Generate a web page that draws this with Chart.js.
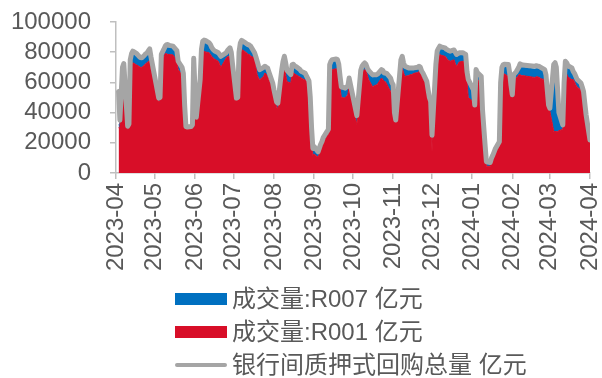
<!DOCTYPE html>
<html>
<head>
<meta charset="utf-8">
<script src="https://cdn.jsdelivr.net/npm/chart.js@4/dist/chart.umd.min.js"></script>
<style>
html,body{margin:0;padding:0;background:#fff;}
#c{display:block;}
</style>
</head>
<body>
<canvas id="c" width="602" height="378"></canvas>
<script>
const dates = [
'2023-04-03','2023-04-04','2023-04-06','2023-04-07','2023-04-10','2023-04-11','2023-04-12','2023-04-13','2023-04-14','2023-04-17',
'2023-04-18','2023-04-19','2023-04-20','2023-04-21','2023-04-23','2023-04-24','2023-04-25','2023-04-26','2023-04-27','2023-04-28',
'2023-05-04','2023-05-05','2023-05-06','2023-05-08','2023-05-09','2023-05-10','2023-05-11','2023-05-12','2023-05-15','2023-05-16',
'2023-05-17','2023-05-18','2023-05-19','2023-05-22','2023-05-23','2023-05-24','2023-05-25','2023-05-26','2023-05-29','2023-05-30',
'2023-05-31','2023-06-01','2023-06-02','2023-06-05','2023-06-06','2023-06-07','2023-06-08','2023-06-09','2023-06-12','2023-06-13',
'2023-06-14','2023-06-15','2023-06-16','2023-06-19','2023-06-20','2023-06-21','2023-06-25','2023-06-26','2023-06-27','2023-06-28',
'2023-06-29','2023-06-30','2023-07-03','2023-07-04','2023-07-05','2023-07-06','2023-07-07','2023-07-10','2023-07-11','2023-07-12',
'2023-07-13','2023-07-14','2023-07-17','2023-07-18','2023-07-19','2023-07-20','2023-07-21','2023-07-24','2023-07-25','2023-07-26',
'2023-07-27','2023-07-28','2023-07-31','2023-08-01','2023-08-02','2023-08-03','2023-08-04','2023-08-07','2023-08-08','2023-08-09',
'2023-08-10','2023-08-11','2023-08-14','2023-08-15','2023-08-16','2023-08-17','2023-08-18','2023-08-21','2023-08-22','2023-08-23',
'2023-08-24','2023-08-25','2023-08-28','2023-08-29','2023-08-30','2023-08-31','2023-09-01','2023-09-04','2023-09-05','2023-09-06',
'2023-09-07','2023-09-08','2023-09-11','2023-09-12','2023-09-13','2023-09-14','2023-09-15','2023-09-18','2023-09-19','2023-09-20',
'2023-09-21','2023-09-22','2023-09-25','2023-09-26','2023-09-27','2023-09-28','2023-10-04','2023-10-07','2023-10-08','2023-10-09',
'2023-10-10','2023-10-11','2023-10-12','2023-10-13','2023-10-16','2023-10-17','2023-10-18','2023-10-19','2023-10-20','2023-10-23',
'2023-10-24','2023-10-25','2023-10-26','2023-10-27','2023-10-30','2023-10-31','2023-11-01','2023-11-02','2023-11-03','2023-11-06',
'2023-11-07','2023-11-08','2023-11-09','2023-11-10','2023-11-13','2023-11-14','2023-11-15','2023-11-16','2023-11-17','2023-11-20',
'2023-11-21','2023-11-22','2023-11-23','2023-11-24','2023-11-27','2023-11-28','2023-11-29','2023-11-30','2023-12-01','2023-12-04',
'2023-12-05','2023-12-06','2023-12-07','2023-12-08','2023-12-11','2023-12-12','2023-12-13','2023-12-14','2023-12-15','2023-12-18',
'2023-12-19','2023-12-20','2023-12-21','2023-12-22','2023-12-25','2023-12-26','2023-12-27','2023-12-28','2023-12-29','2024-01-02',
'2024-01-03','2024-01-04','2024-01-05','2024-01-08','2024-01-09','2024-01-10','2024-01-11','2024-01-12','2024-01-15','2024-01-16',
'2024-01-17','2024-01-18','2024-01-19','2024-01-22','2024-01-23','2024-01-24','2024-01-25','2024-01-26','2024-01-29','2024-01-30',
'2024-01-31','2024-02-01','2024-02-02','2024-02-04','2024-02-05','2024-02-06','2024-02-07','2024-02-08','2024-02-09','2024-02-18',
'2024-02-19','2024-02-20','2024-02-21','2024-02-22','2024-02-23','2024-02-26','2024-02-27','2024-02-28','2024-02-29','2024-03-01',
'2024-03-04','2024-03-05','2024-03-06','2024-03-07','2024-03-08','2024-03-11','2024-03-12','2024-03-13','2024-03-14','2024-03-15',
'2024-03-18','2024-03-19','2024-03-20','2024-03-21','2024-03-22','2024-03-25','2024-03-26','2024-03-27','2024-03-28','2024-03-29',
'2024-04-01'
];
const total = [
54000,35000,70000,72500,31000,32500,75000,79000,80700,79000,
78000,77000,76500,76300,78000,79000,79600,81000,82200,77000,
49600,50000,78500,82000,84000,85000,85100,84500,84000,83000,
82000,81000,74000,70000,66000,45000,30700,30500,30800,32000,
76000,55000,37000,62000,82000,87300,88000,87800,86200,85000,
83000,81800,81000,79600,78500,77300,79600,81000,82000,82900,
80000,71800,49600,50000,80000,86000,87800,86200,85500,85100,
84700,84000,79600,77000,74000,71000,68500,70000,70700,70000,
69600,67000,59600,55000,51000,47000,46300,68500,74000,77300,
73000,68000,65100,71800,72000,71000,70500,68500,67300,67000,
66500,66200,61000,50000,30000,16300,17500,14000,16500,19000,
20700,23500,27500,29000,71800,74000,75100,75500,75100,72000,
64000,57000,56300,57000,57300,62900,38000,68000,70700,72000,
72900,72000,69600,68000,65100,65000,65100,65100,65500,68500,
68000,66200,66200,66000,62900,60000,58500,40000,35100,65000,
75000,77300,73000,70700,69600,69600,69600,69600,69600,70000,
70700,70000,67500,66200,60700,55000,50000,47300,25000,72000,
80700,82500,84000,83500,82900,82000,81500,81000,80700,81500,
80000,78500,79000,79600,79600,79000,78500,67300,62000,55000,
45000,68500,66500,64000,42000,30000,18500,7500,7000,10000,
11800,14000,16300,20700,60000,70000,71800,72000,71800,66000,
58000,51800,65100,67000,68500,70000,72300,71800,71500,70700,
71000,71000,70700,70500,70000,68500,65000,55000,45000,42900,
72000,73000,70000,55000,40000,31800,60000,74000,73000,71000,
69600,67300,66000,64000,62000,59600,57000,54000,46000,38500,
21800
];
const r001 = [
30000,30000,64000,67000,29000,30000,69000,72000,73000,71500,
71000,70500,70000,70000,71500,72500,73000,74000,74000,68500,
47500,47500,74000,77000,79000,79000,78500,78500,78200,77000,
75000,74000,68500,65000,62500,42000,29500,29500,29500,30000,
68000,50000,35000,57000,76000,80200,80500,80200,79600,78500,
77000,76300,75500,74000,72000,70000,76000,77000,77300,77300,
74000,67300,48000,48000,76000,81800,81800,80200,79500,78500,
78500,77300,76300,70000,65100,63000,61800,64000,66200,65500,
64000,62000,57300,52000,47000,43500,42900,64000,69000,71500,
65000,60500,59600,67300,66500,65500,65100,63500,62900,62500,
62000,61800,58000,46000,26000,11800,12500,10500,12500,15000,
16500,20000,24500,25500,67300,68500,68500,69000,68500,66000,
56000,50000,49600,51000,51800,57300,31800,63000,66200,67500,
68500,67500,65100,62000,57300,57500,58000,58300,59000,62900,
62000,60700,60500,59000,54000,54000,54000,37000,33400,60000,
68000,69600,66500,64000,64500,65100,65100,65500,66000,66500,
67300,66500,64000,62500,58000,52000,47000,44000,14000,67000,
76300,77500,78500,78000,77300,76500,75000,74500,74000,75000,
72500,70700,72000,73500,74000,74000,73500,60700,50000,47000,
43000,64000,62000,60000,39000,27500,16000,4500,4500,7500,
8900,11000,13000,17500,55000,64500,66200,65500,64000,58000,
54000,50500,60700,63000,63500,65000,65100,64500,64500,63300,
63500,63800,63500,63300,62500,61800,59000,51000,42500,41000,
27500,27500,27500,27500,28000,29000,56000,67000,65500,63500,
61800,62000,60500,58500,57000,55000,53500,52000,44000,37000,
20700
];
const r007 = [
2000,2500,4000,4000,1000,1500,4500,5000,5500,5500,
5000,5000,5000,4800,5000,5000,5000,5500,6000,6500,
1500,1500,3500,3500,3500,4000,4500,4500,4500,4500,
5000,5000,4000,3000,2500,2000,700,500,700,1000,
5000,3000,1000,3000,4000,5000,5500,5500,5000,5000,
4500,4000,4000,4000,4500,5500,2500,2800,3000,3500,
4000,3000,1000,1000,2500,2500,4000,4000,4000,4500,
4500,4500,2500,5000,6500,6500,5500,4500,3500,3500,
4000,3500,1500,2000,2500,2000,2000,3000,3500,4000,
6000,6000,4000,3000,3500,3500,3500,3500,3000,3000,
3000,3000,2000,2500,2500,3500,3500,2500,2500,2500,
3000,2500,2000,2000,3500,4000,5000,5000,5000,5000,
5500,5500,5000,4500,4000,4000,4500,3500,3000,3000,
3000,3000,3000,4500,6000,6000,5500,5500,5000,4000,
4500,4000,4000,5000,7000,4500,3000,2000,1000,3000,
4500,5500,5000,5000,4000,3500,3500,3000,3000,3000,
2500,2500,2500,2500,2000,2000,2000,2000,10000,3500,
3500,3500,4000,4000,4000,4000,5000,5000,5500,5500,
6000,6500,5500,5000,4500,4000,4000,5500,10000,6000,
1500,3000,3000,2500,1500,1500,1500,2000,1500,1500,
1500,1500,1500,1500,3000,3500,4000,4500,6000,6000,
3000,800,3000,3000,3500,4000,5500,5500,5500,5500,
5500,5500,5500,5500,5500,5000,4000,3000,1500,1000,
42500,43500,40000,26000,10000,1500,2500,5000,5500,5500,
6000,4000,4000,4000,3500,3000,2500,1500,1500,1000,
800
];
const monthLabels = ['2023-04','2023-05','2023-06','2023-07','2023-08','2023-09','2023-10','2023-11','2023-12','2024-01','2024-02','2024-03','2024-04'];
const seriesNames = ['银行间质押式回购总量 亿元','成交量:R001 亿元','成交量:R007 亿元'];

const ORIGIN = Date.UTC(2023, 3, 1);
const dayOf = s => (Date.parse(s + 'T00:00:00Z') - ORIGIN) / 86400000;
const tickVals = monthLabels.map(m => dayOf(m + '-01'));
const tickMap = {};
monthLabels.forEach((m, i) => { tickMap[tickVals[i]] = m; });
const pts = arr => dates.map((d, i) => ({ x: dayOf(d), y: arr[i] }));

const FONT = "'Liberation Sans', 'Noto Sans CJK SC', Arial, sans-serif";
const TXT = '#595959';
const AXIS = '#BFBFBF';
const RED = '#D80E28', BLUE = '#0070C0', GREY = '#A5A5A5';

const legendPlugin = {
  id: 'stackedLegend',
  afterDraw(chart) {
    const ctx = chart.ctx;
    const ds = chart.data.datasets;
    const rows = [
      { d: ds[2], kind: 'box' },
      { d: ds[1], kind: 'box' },
      { d: ds[0], kind: 'line' }
    ];
    const x0 = 175, bw = 52, tx = 232, y0 = 299, dy = 33;
    ctx.save();
    ctx.font = '24px ' + FONT;
    ctx.textBaseline = 'middle';
    ctx.textAlign = 'left';
    rows.forEach((r, i) => {
      const y = y0 + i * dy;
      if (r.kind === 'box') {
        ctx.fillStyle = r.d.backgroundColor;
        ctx.fillRect(x0, y - 6, bw, 12);
      } else {
        ctx.strokeStyle = r.d.borderColor;
        ctx.lineWidth = 4;
        ctx.lineCap = 'round';
        ctx.beginPath();
        ctx.moveTo(x0 + 2, y);
        ctx.lineTo(x0 + bw - 2, y);
        ctx.stroke();
      }
      ctx.fillStyle = TXT;
      ctx.fillText(r.d.label, tx, y + 1);
    });
    ctx.restore();
  }
};

new Chart(document.getElementById('c'), {
  type: 'line',
  data: {
    datasets: [
      { label: seriesNames[0], data: pts(total), borderColor: GREY, backgroundColor: GREY, borderWidth: 5,
        fill: false, stack: 'total', pointRadius: 0, tension: 0, borderJoinStyle: 'round', borderCapStyle: 'round' },
      { label: seriesNames[1], data: pts(r001), borderColor: RED, backgroundColor: RED, borderWidth: 1,
        fill: 'origin', stack: 'vol', pointRadius: 0, tension: 0 },
      { label: seriesNames[2], data: pts(r007), borderColor: BLUE, backgroundColor: BLUE, borderWidth: 1,
        fill: 1, stack: 'vol', pointRadius: 0, tension: 0 }
    ]
  },
  options: {
    responsive: false,
    animation: false,
    events: [],
    layout: { padding: { left: 0, top: 22, right: 12, bottom: 105 } },
    plugins: { legend: { display: false }, tooltip: { enabled: false } },
    scales: {
      x: {
        type: 'linear', min: 0, max: tickVals[tickVals.length - 1],
        afterBuildTicks: s => { s.ticks = tickVals.map(v => ({ value: v })); },
        afterFit: s => { s.paddingLeft = 4; s.paddingRight = 4; s.height = 100; },
        ticks: { autoSkip: false, minRotation: 90, maxRotation: 90, padding: 4, color: TXT,
          font: { family: FONT, size: 24, lineHeight: 1 }, callback: v => tickMap[v] },
        grid: { display: true, drawOnChartArea: false, drawTicks: true, tickLength: 6, color: AXIS, lineWidth: 1.5 },
        border: { display: true, color: AXIS, width: 1.5 }
      },
      y: {
        stacked: true, min: 0, max: 100000,
        afterFit: s => { s.paddingTop = 4; s.paddingBottom = 4; s.width = 116; },
        ticks: { autoSkip: false, stepSize: 20000, padding: 19, color: TXT, font: { family: FONT, size: 24 }, callback: v => String(v) },
        grid: { display: true, drawOnChartArea: false, drawTicks: true, tickLength: 6, color: AXIS, lineWidth: 1.5 },
        border: { display: true, color: AXIS, width: 1.5 }
      }
    }
  },
  plugins: [legendPlugin]
});
</script>
</body>
</html>
